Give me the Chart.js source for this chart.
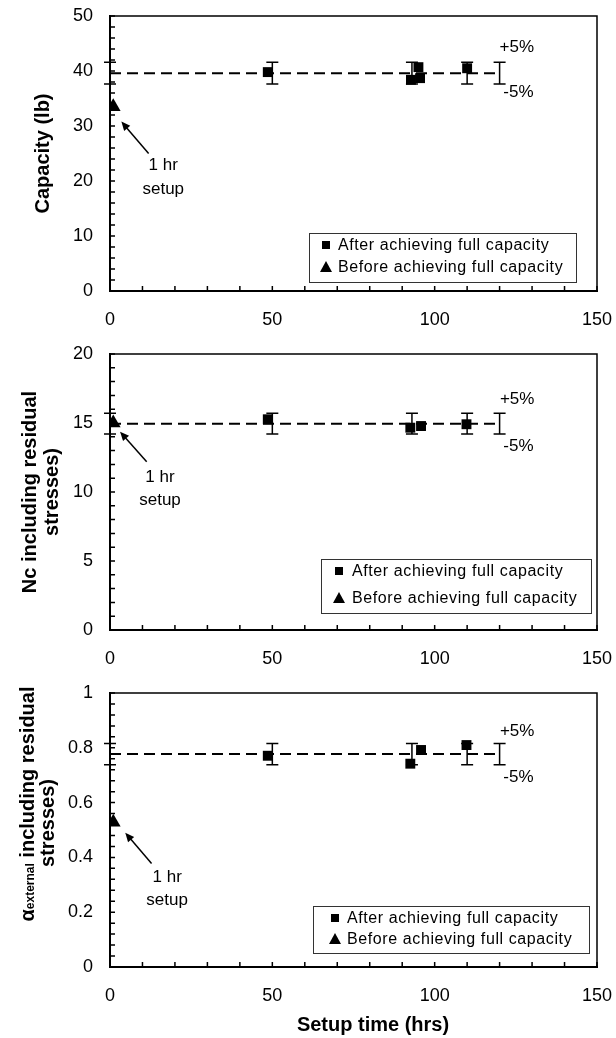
<!DOCTYPE html>
<html>
<head>
<meta charset="utf-8">
<script src="https://cdn.jsdelivr.net/npm/chart.js@4.4.0/dist/chart.umd.min.js"></script>
<style>
  html, body { margin: 0; padding: 0; background: #fff; overflow: hidden; }
  #wrap { position: relative; width: 616px; height: 1038px; overflow: hidden; }
  .panel { position: absolute; left: 0; width: 616px; }
</style>
</head>
<body>
<div id="wrap">
  <div class="panel" style="top:0;height:338px"><canvas id="capChart"></canvas></div>
  <div class="panel" style="top:338px;height:338px"><canvas id="ncChart"></canvas></div>
  <div class="panel" style="top:676px;height:362px"><canvas id="alphaChart"></canvas></div>
</div>
<script>
// ---- dados ----
const xTickLabels = [0, 50, 100, 150];

// tempos onde ficam as barras de +/-5% em torno da média
const bandTimes = [0, 50, 93, 110, 120];
const tolerance = 0.05;

// Capacidade (lb)
const capTimes = [48.6, 92.7, 95.0, 95.5, 110];
const capValues = [39.8, 38.4, 40.7, 38.7, 40.5];
const capEarlyTimes = [1];
const capEarlyValues = [33.5];
const capMean = 39.6;

// Nc
const ncTimes = [48.6, 92.5, 95.8, 109.8];
const ncValues = [15.27, 14.66, 14.78, 14.91];
const ncEarlyTimes = [1];
const ncEarlyValues = [15.0];
const ncMean = 14.95;

// alpha external
const alphaTimes = [48.6, 92.5, 95.8, 109.8];
const alphaValues = [0.771, 0.742, 0.792, 0.810];
const alphaEarlyTimes = [1];
const alphaEarlyValues = [0.528];
const alphaMean = 0.777;

const legendLabels = ['After achieving full capacity', 'Before achieving full capacity'];

const FONT = '"Liberation Sans", Arial, sans-serif';

const toPoints = (xs, ys) => xs.map((x, i) => ({ x: x, y: ys[i] }));

/**
 * Plugin: barras de erro, ticks internos, moldura, legenda e anotações
 */
const decorPlugin = {
    id: 'decor',
    beforeDatasetsDraw(chart, args, o) {
        const { ctx, scales: { x, y } } = chart;
        ctx.save();
        ctx.strokeStyle = '#000';
        ctx.lineWidth = 1.5;
        bandTimes.forEach(t => {
            const px = x.getPixelForValue(t);
            const hi = y.getPixelForValue(o.mean * (1 + tolerance));
            const lo = y.getPixelForValue(o.mean * (1 - tolerance));
            ctx.beginPath();
            ctx.moveTo(px, hi); ctx.lineTo(px, lo);
            ctx.moveTo(px - 6, hi); ctx.lineTo(px + 6, hi);
            ctx.moveTo(px - 6, lo); ctx.lineTo(px + 6, lo);
            ctx.stroke();
        });
        ctx.restore();
    },
    afterDraw(chart, args, o) {
        const { ctx, chartArea: a, scales: { x, y } } = chart;
        ctx.save();
        ctx.strokeStyle = '#000';
        ctx.fillStyle = '#000';

        // moldura superior / direita
        ctx.lineWidth = 1.5;
        ctx.beginPath();
        ctx.moveTo(a.left, a.top); ctx.lineTo(a.right, a.top); ctx.lineTo(a.right, a.bottom);
        ctx.stroke();

        // ticks para dentro
        ctx.beginPath();
        x.ticks.forEach(t => {
            const px = x.getPixelForValue(t.value);
            ctx.moveTo(px, a.bottom); ctx.lineTo(px, a.bottom - 5);
        });
        y.ticks.forEach(t => {
            const py = y.getPixelForValue(t.value);
            ctx.moveTo(a.left, py); ctx.lineTo(a.left + 5, py);
        });
        ctx.stroke();

        // seta "1 hr setup"
        const [fx, fy] = o.arrow.from, [tx, ty] = o.arrow.to;
        const x1 = x.getPixelForValue(fx), y1 = y.getPixelForValue(fy);
        const x2 = x.getPixelForValue(tx), y2 = y.getPixelForValue(ty);
        const ang = Math.atan2(y2 - y1, x2 - x1);
        ctx.lineWidth = 1.5;
        ctx.beginPath();
        ctx.moveTo(x1, y1);
        ctx.lineTo(x2 - 6 * Math.cos(ang), y2 - 6 * Math.sin(ang));
        ctx.stroke();
        ctx.beginPath();
        ctx.moveTo(x2, y2);
        ctx.lineTo(x2 - 9 * Math.cos(ang) + 4 * Math.sin(ang), y2 - 9 * Math.sin(ang) - 4 * Math.cos(ang));
        ctx.lineTo(x2 - 9 * Math.cos(ang) - 4 * Math.sin(ang), y2 - 9 * Math.sin(ang) + 4 * Math.cos(ang));
        ctx.closePath();
        ctx.fill();

        // textos
        ctx.font = '17px ' + FONT;
        ctx.textAlign = 'center';
        ctx.textBaseline = 'middle';
        o.notes.forEach(n => {
            ctx.fillText(n.text, x.getPixelForValue(n.x), y.getPixelForValue(n.y));
        });

        // legenda
        const L = o.legend;
        ctx.lineWidth = 1;
        ctx.strokeStyle = '#333';
        ctx.fillStyle = '#fff';
        ctx.fillRect(L.x, L.y, L.w, L.h);
        ctx.strokeRect(L.x + 0.5, L.y + 0.5, L.w, L.h);
        ctx.fillStyle = '#000';
        ctx.fillRect(L.markerX - 4, L.rows[0] - 4, 8, 8);
        ctx.beginPath();
        ctx.moveTo(L.markerX, L.rows[1] - 6);
        ctx.lineTo(L.markerX + 6, L.rows[1] + 5);
        ctx.lineTo(L.markerX - 6, L.rows[1] + 5);
        ctx.closePath();
        ctx.fill();
        ctx.font = '16px ' + FONT;
        ctx.textAlign = 'left';
        ctx.letterSpacing = '0.6px';
        legendLabels.forEach((s, i) => ctx.fillText(s, L.textX, L.rows[i] + 1));
        ctx.letterSpacing = '0px';

        // títulos desenhados à mão (painel alfa)
        if (o.alphaTitle) {
            const big = 'bold 20px ' + FONT, small = 'bold 12px ' + FONT;
            ctx.save();
            ctx.translate(27, 128);
            ctx.rotate(-Math.PI / 2);
            const parts = [['α', big], ['external', small], [' including residual', big]];
            let total = 0;
            parts.forEach(p => { ctx.font = p[1]; total += ctx.measureText(p[0]).width; });
            let cx = -total / 2;
            ctx.textAlign = 'left';
            ctx.textBaseline = 'alphabetic';
            parts.forEach(p => {
                ctx.font = p[1];
                ctx.fillText(p[0], cx, 7);
                cx += ctx.measureText(p[0]).width;
            });
            ctx.restore();

            ctx.save();
            ctx.translate(48, 147);
            ctx.rotate(-Math.PI / 2);
            ctx.font = big;
            ctx.textAlign = 'center';
            ctx.textBaseline = 'middle';
            ctx.fillText('stresses)', 0, 0);
            ctx.restore();

            ctx.font = big;
            ctx.textAlign = 'center';
            ctx.textBaseline = 'middle';
            ctx.fillText('Setup time (hrs)', 373, 349);
        }
        ctx.restore();
    }
};

function makePanel(canvasId, cfg) {
    return new Chart(document.getElementById(canvasId), {
        type: 'scatter',
        data: {
            datasets: [
                {
                    label: legendLabels[0],
                    data: toPoints(cfg.times, cfg.values),
                    pointStyle: 'rect',
                    pointRadius: 7,
                    backgroundColor: '#000',
                    borderColor: '#000',
                    borderWidth: 0
                },
                {
                    label: legendLabels[1],
                    data: toPoints(cfg.earlyTimes, cfg.earlyValues),
                    pointStyle: 'triangle',
                    pointRadius: 8.5,
                    backgroundColor: '#000',
                    borderColor: '#000',
                    borderWidth: 0
                },
                {
                    label: 'média',
                    data: bandTimes.map(t => ({ x: t, y: cfg.mean })),
                    showLine: true,
                    borderColor: '#000',
                    borderWidth: 2,
                    borderDash: [11, 6],
                    pointRadius: 0,
                    fill: false,
                    tension: 0
                }
            ]
        },
        options: {
            responsive: true,
            maintainAspectRatio: false,
            animation: false,
            events: [],
            layout: { padding: { top: cfg.padTop, right: 19, left: 0, bottom: 0 } },
            plugins: {
                legend: { display: false },
                tooltip: { enabled: false },
                decor: {
                    mean: cfg.mean,
                    arrow: cfg.arrow,
                    notes: cfg.notes,
                    legend: cfg.legend,
                    alphaTitle: !!cfg.alphaTitle
                }
            },
            scales: {
                x: {
                    type: 'linear',
                    min: 0,
                    max: 150,
                    afterFit: s => {
                        s.height = cfg.xAxisHeight;
                        s.paddingLeft = 0; s.paddingRight = 0;
                    },
                    grid: { display: false, drawTicks: false },
                    border: { color: '#000', width: 2 },
                    ticks: {
                        stepSize: 10,
                        autoSkip: false,
                        maxRotation: 0,
                        padding: 18,
                        color: '#000',
                        font: { size: 18, family: FONT },
                        callback: v => xTickLabels.includes(v) ? String(v) : ''
                    }
                },
                y: {
                    type: 'linear',
                    min: 0,
                    max: cfg.yMax,
                    afterFit: s => {
                        s.width = 110;
                        s.paddingTop = 0; s.paddingBottom = 0;
                    },
                    grid: { display: false, drawTicks: false },
                    border: { color: '#000', width: 2 },
                    ticks: {
                        stepSize: cfg.yStep,
                        autoSkip: false,
                        padding: 17,
                        color: '#000',
                        font: { size: 18, family: FONT },
                        callback: cfg.yLabel
                    },
                    title: cfg.yTitle
                }
            }
        },
        plugins: [decorPlugin]
    });
}

makePanel('capChart', {
    times: capTimes, values: capValues,
    earlyTimes: capEarlyTimes, earlyValues: capEarlyValues,
    mean: capMean,
    yMax: 50, yStep: 2,
    yLabel: v => v % 10 === 0 ? String(v) : '',
    padTop: 16, xAxisHeight: 47,
    yTitle: {
        display: true, text: 'Capacity (lb)', color: '#000',
        font: { size: 20, weight: 'bold', family: FONT },
        padding: { top: 31, bottom: 0 }
    },
    arrow: { from: [11.9, 25.0], to: [3.5, 30.8] },
    notes: [
        { text: '1 hr', x: 16.4, y: 22.9 },
        { text: 'setup', x: 16.4, y: 18.5 },
        { text: '+5%', x: 125.3, y: 44.3 },
        { text: '-5%', x: 125.8, y: 36.05 }
    ],
    legend: { x: 309, y: 233, w: 267, h: 49, rows: [245, 267], markerX: 326, textX: 338 }
});

makePanel('ncChart', {
    times: ncTimes, values: ncValues,
    earlyTimes: ncEarlyTimes, earlyValues: ncEarlyValues,
    mean: ncMean,
    yMax: 20, yStep: 1,
    yLabel: v => v % 5 === 0 ? String(v) : '',
    padTop: 16, xAxisHeight: 46,
    yTitle: {
        display: true, text: ['Nc including residual', 'stresses)'], color: '#000',
        font: { size: 20, weight: 'bold', family: FONT, lineHeight: 1.1 },
        padding: { top: 19, bottom: 0 }
    },
    arrow: { from: [11.3, 12.2], to: [3.1, 14.37] },
    notes: [
        { text: '1 hr', x: 15.4, y: 11.04 },
        { text: 'setup', x: 15.4, y: 9.37 },
        { text: '+5%', x: 125.4, y: 16.74 },
        { text: '-5%', x: 125.8, y: 13.33 }
    ],
    legend: { x: 321, y: 221, w: 270, h: 54, rows: [233, 260], markerX: 339, textX: 352 }
});

makePanel('alphaChart', {
    times: alphaTimes, values: alphaValues,
    earlyTimes: alphaEarlyTimes, earlyValues: alphaEarlyValues,
    mean: alphaMean,
    yMax: 1, yStep: 0.04,
    yLabel: v => {
        const r = Math.round(v * 5);
        if (Math.abs(v * 5 - r) > 1e-6) return '';
        return (r === 0 || r === 5) ? String(r / 5) : (r / 5).toFixed(1);
    },
    padTop: 17, xAxisHeight: 71,
    yTitle: { display: false },
    alphaTitle: true,
    arrow: { from: [12.8, 0.378], to: [4.7, 0.490] },
    notes: [
        { text: '1 hr', x: 17.6, y: 0.327 },
        { text: 'setup', x: 17.6, y: 0.242 },
        { text: '+5%', x: 125.4, y: 0.861 },
        { text: '-5%', x: 125.8, y: 0.692 }
    ],
    legend: { x: 313, y: 230, w: 276, h: 47, rows: [242, 263], markerX: 335, textX: 347 }
});
</script>
</body>
</html>
